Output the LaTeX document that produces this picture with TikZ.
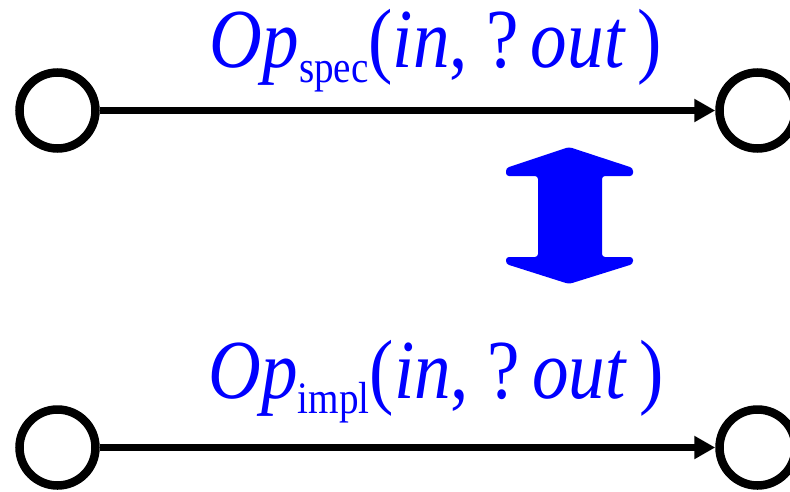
\documentclass[tikz,border=0pt]{standalone}
\usepackage{fontspec}
\usepackage{graphicx}
\setmainfont{Liberation Serif}
\usetikzlibrary{arrows.meta}

\begin{document}
\begin{tikzpicture}[x=1pt,y=-1pt,
  state/.style={circle,draw,line width=8.5pt,minimum size=76pt,inner sep=0pt},
  trans/.style={line width=7.5pt,-{Triangle[length=21pt,width=22pt]}},
  lbl/.style={blue,anchor=base,font=\fontsize{84}{90}\selectfont}]
\useasboundingbox (0,0) rectangle (790,491);
\foreach \y/\b/\s in {110.5/67/spec,447.5/398/impl}{
  \node[state] (l\s) at (57.5,\y) {};
  \node[state] (r\s) at (757.5,\y) {};
  \draw[trans] (l\s) -- (r\s);
  \node[lbl] (t\s) at (436,\b) {\scalebox{0.87}[1]{\textit{Op}\raisebox{-15pt}{\fontsize{45}{45}\selectfont\s}(\textit{in}, ?\,\textit{out}\,)}};
}
% the two-way arrow between the rows
\fill[blue,rounded corners=3pt] (569,147) -- (633,168) -- (633,176) -- (602,176) -- (602,257)
  -- (633,257) -- (633,264) -- (569,284) -- (506,264) -- (506,257) -- (538,257) -- (538,176)
  -- (506,176) -- (506,168) -- cycle;
\end{tikzpicture}
\end{document}
